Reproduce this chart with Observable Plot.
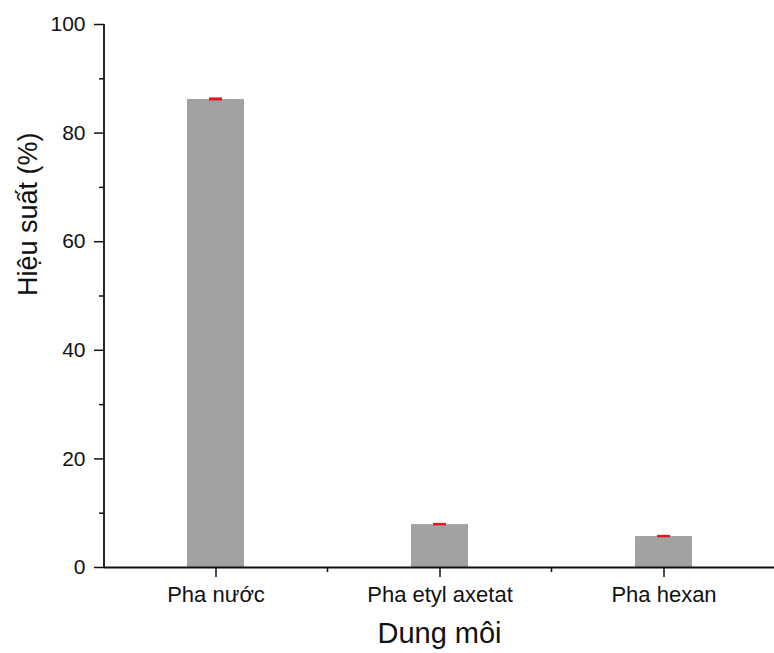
<!DOCTYPE html>
<html>
<head>
<meta charset="utf-8">
<script src="https://cdn.jsdelivr.net/npm/d3@7"></script>
<script src="https://cdn.jsdelivr.net/npm/@observablehq/plot@0.6"></script>
<style>
  html, body { margin: 0; padding: 0; background: #fff; }
  #chart svg { display: block; }
</style>
</head>
<body>
<div id="chart"></div>
<script>
const categories = ["Pha nước", "Pha etyl axetat", "Pha hexan"];
const values = [86.2, 7.9, 5.7];
const errors = [0.28, 0.22, 0.22];
const yMajorTicks = [0, 20, 40, 60, 80, 100];
const yMinorTicks = [10, 30, 50, 70, 90];
const xTitle = "Dung môi";
const yTitle = "Hiệu suất (%)";

const data = categories.map((c, i) => ({cat: c, value: values[i], lo: values[i] - errors[i], hi: values[i] + errors[i]}));

const font = "Arial, 'Liberation Sans', Helvetica, sans-serif";
const ink = "#111111";

// minor ticks between categories on the x axis (band boundaries)
function xMinorTicks(index, scales, values, dimensions) {
  const g = d3.create("svg:g");
  const x = scales.x;
  const step = x.step();
  const y0 = scales.y(0);
  for (const c of x.domain()) {
    const cx = x(c) + x.bandwidth() / 2 + step / 2;
    g.append("line").attr("x1", cx).attr("x2", cx).attr("y1", y0).attr("y2", y0 + 5)
      .attr("stroke", ink).attr("stroke-width", 1.5);
  }
  return g.node();
}
// vertical y axis line
function yAxisLine(index, scales, values, dimensions) {
  const g = d3.create("svg:g");
  const [d0, d1] = scales.y.domain();
  g.append("line")
    .attr("x1", dimensions.marginLeft).attr("x2", dimensions.marginLeft)
    .attr("y1", scales.y(d0) + 1).attr("y2", scales.y(d1))
    .attr("stroke", ink).attr("stroke-width", 1.8);
  return g.node();
}

const chart = Plot.plot({
  width: 774,
  height: 653,
  marginLeft: 104,
  marginRight: 0,
  marginTop: 24,
  marginBottom: 86,
  style: {fontFamily: font, color: ink, background: "#fff"},
  x: {domain: categories, range: [104, 776], paddingInner: 0.745, paddingOuter: 0.3725, align: 0.5, label: null},
  y: {domain: [0, 100], label: null},
  marks: [
    Plot.barY(data, {x: "cat", y: "value", fill: "#a2a2a2"}),
    Plot.rectY(data, {x: "cat", y1: "lo", y2: "hi", fill: "#e8141c", insetLeft: 22, insetRight: 22}),
    Plot.ruleY([0], {stroke: ink, strokeWidth: 1.8}),
    yAxisLine,
    xMinorTicks,
    Plot.axisY({ticks: yMajorTicks, tickSize: 10, tickPadding: 9, fontSize: 21, tickFormat: d3.format("d"), stroke: ink, strokeWidth: 1.5, fill: ink, label: null}),
    Plot.axisY({ticks: yMinorTicks, tickSize: 5, tickFormat: null, text: null, stroke: ink, strokeWidth: 1.5, label: null}),
    Plot.axisX({tickSize: 10, tickPadding: 9, fontSize: 22, stroke: ink, strokeWidth: 1.5, fill: ink, label: null}),
    Plot.text([xTitle], {frameAnchor: "bottom", dy: 75, fontSize: 29, fill: ink}),
    Plot.text([yTitle], {frameAnchor: "left", dx: -76, rotate: -90, fontSize: 27, fill: ink})
  ]
});
document.getElementById("chart").appendChild(chart);
</script>
</body>
</html>
